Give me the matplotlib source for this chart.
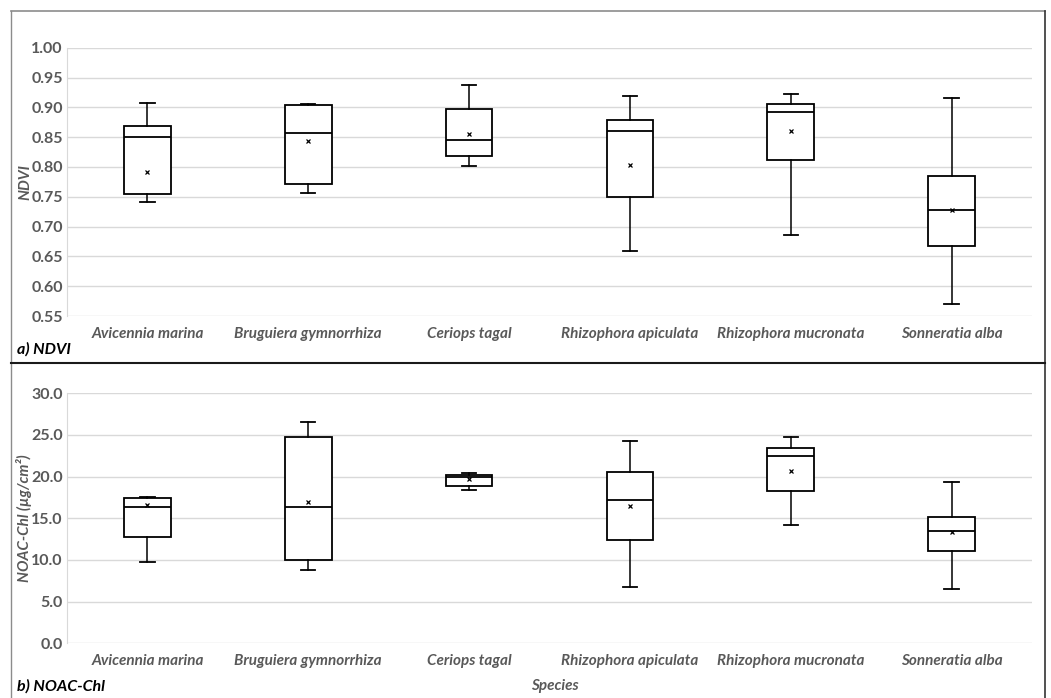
import matplotlib
matplotlib.use("Agg")
import matplotlib.pyplot as plt
from matplotlib.lines import Line2D

species = ["Avicennia marina", "Bruguiera gymnorrhiza", "Ceriops tagal",
           "Rhizophora apiculata", "Rhizophora mucronata", "Sonneratia alba"]

# NDVI stats
ndvi_whislo = [0.741, 0.757, 0.802, 0.659, 0.686, 0.570]
ndvi_q1     = [0.755, 0.772, 0.819, 0.749, 0.811, 0.667]
ndvi_med    = [0.851, 0.857, 0.846, 0.861, 0.892, 0.728]
ndvi_q3     = [0.868, 0.904, 0.898, 0.879, 0.906, 0.784]
ndvi_whishi = [0.907, 0.906, 0.938, 0.919, 0.923, 0.916]
ndvi_mean   = [0.792, 0.844, 0.856, 0.803, 0.860, 0.727]

# NOAC-Chl stats
chl_whislo = [9.7, 8.8, 18.4, 6.8, 14.2, 6.5]
chl_q1     = [12.8, 10.0, 18.9, 12.4, 18.3, 11.1]
chl_med    = [16.4, 16.3, 20.0, 17.2, 22.5, 13.5]
chl_q3     = [17.4, 24.7, 20.2, 20.5, 23.4, 15.2]
chl_whishi = [17.5, 26.6, 20.4, 24.3, 24.8, 19.3]
chl_mean   = [16.6, 17.0, 19.7, 16.5, 20.7, 13.3]

ndvi_ticks = [0.55, 0.60, 0.65, 0.70, 0.75, 0.80, 0.85, 0.90, 0.95, 1.00]
chl_ticks = [0.0, 5.0, 10.0, 15.0, 20.0, 25.0, 30.0]

W, H = 1051, 698
fig = plt.figure(figsize=(W / 100, H / 100), dpi=100)
FONT = "Lato"
GRAY = "#595959"


def px_axes(x0, y0, x1, y1):
    return fig.add_axes([x0 / W, 1 - y1 / H, (x1 - x0) / W, (y1 - y0) / H])


def make_stats(lo, q1, med, q3, hi, mean):
    return [dict(whislo=a, q1=b, med=c, q3=d, whishi=e, mean=f, fliers=[])
            for a, b, c, d, e, f in zip(lo, q1, med, q3, hi, mean)]


def draw(ax, stats, ticks, fmt, ylim, ylabel):
    pos = list(range(len(species)))
    ax.bxp(stats, positions=pos, widths=0.29, showmeans=True, shownotches=False,
           patch_artist=True,
           boxprops=dict(facecolor="white", edgecolor="black", linewidth=1.3),
           medianprops=dict(color="black", linewidth=1.3),
           whiskerprops=dict(color="black", linewidth=1.1),
           capprops=dict(color="black", linewidth=1.3),
           capwidths=0.09,
           meanprops=dict(marker="x", markeredgecolor="black", markersize=3.5,
                          markeredgewidth=0.9, linestyle="none"))
    ax.set_xlim(-0.5, len(species) - 0.5)
    ax.set_ylim(*ylim)
    ax.set_yticks(ticks)
    ax.set_yticklabels([fmt.format(t) for t in ticks], fontfamily=FONT,
                       fontweight="bold", fontsize=11.5, color=GRAY)
    ax.set_xticks(pos)
    ax.set_xticklabels(species, fontfamily=FONT, fontstyle="italic",
                       fontweight="bold", fontsize=11, color=GRAY)
    ax.tick_params(axis="x", length=0, pad=8)
    ax.tick_params(axis="y", length=0, pad=3)
    ax.grid(axis="y", color="#d9d9d9", linewidth=1.0)
    ax.set_axisbelow(True)
    for s in ["top", "right", "bottom"]:
        ax.spines[s].set_visible(False)
    ax.spines["left"].set_color("#d9d9d9")
    ax.set_ylabel(ylabel, fontfamily=FONT, fontstyle="italic", fontweight="bold",
                  fontsize=11, color=GRAY)
    ax.yaxis.set_label_coords(-35 / (ax.get_position().width * W), 0.5)


ax1 = px_axes(67, 47.7, 1032, 316)
draw(ax1, make_stats(ndvi_whislo, ndvi_q1, ndvi_med, ndvi_q3, ndvi_whishi, ndvi_mean),
     ndvi_ticks, "{:.2f}", (0.55, 1.00), "NDVI")

ax2 = px_axes(67, 393.3, 1032, 643.3)
draw(ax2, make_stats(chl_whislo, chl_q1, chl_med, chl_q3, chl_whishi, chl_mean),
     chl_ticks, "{:.1f}", (0.0, 30.0), "NOAC-Chl (\u00b5g/cm\u00b2)")

# panel labels
fig.text(17 / W, 1 - 349 / H, "a) NDVI", fontfamily=FONT, fontstyle="italic",
         fontweight="bold", fontsize=11.5, color="black", va="center", ha="left")
fig.text(17 / W, 1 - 686 / H, "b) NOAC-Chl", fontfamily=FONT, fontstyle="italic",
         fontweight="bold", fontsize=11.5, color="black", va="center", ha="left")
fig.text(555 / W, 1 - 686 / H, "Species", fontfamily=FONT, fontstyle="italic",
         fontweight="bold", fontsize=11, color=GRAY, va="center", ha="center")

# frame lines
def fline(x0, y0, x1, y1, color, lw):
    fig.add_artist(Line2D([x0 / W, x1 / W], [1 - y0 / H, 1 - y1 / H],
                          color=color, linewidth=lw, transform=fig.transFigure))

fline(11, 10.5, 1045, 10.5, "#8c8c8c", 1.2)
fline(11, 10.5, 11, 698, "#8c8c8c", 1.0)
fline(1045, 10.5, 1045, 698, "#333333", 1.2)
fline(11, 362.5, 1045, 362.5, "#1a1a1a", 1.5)

fig.savefig("out.png", dpi=100)
